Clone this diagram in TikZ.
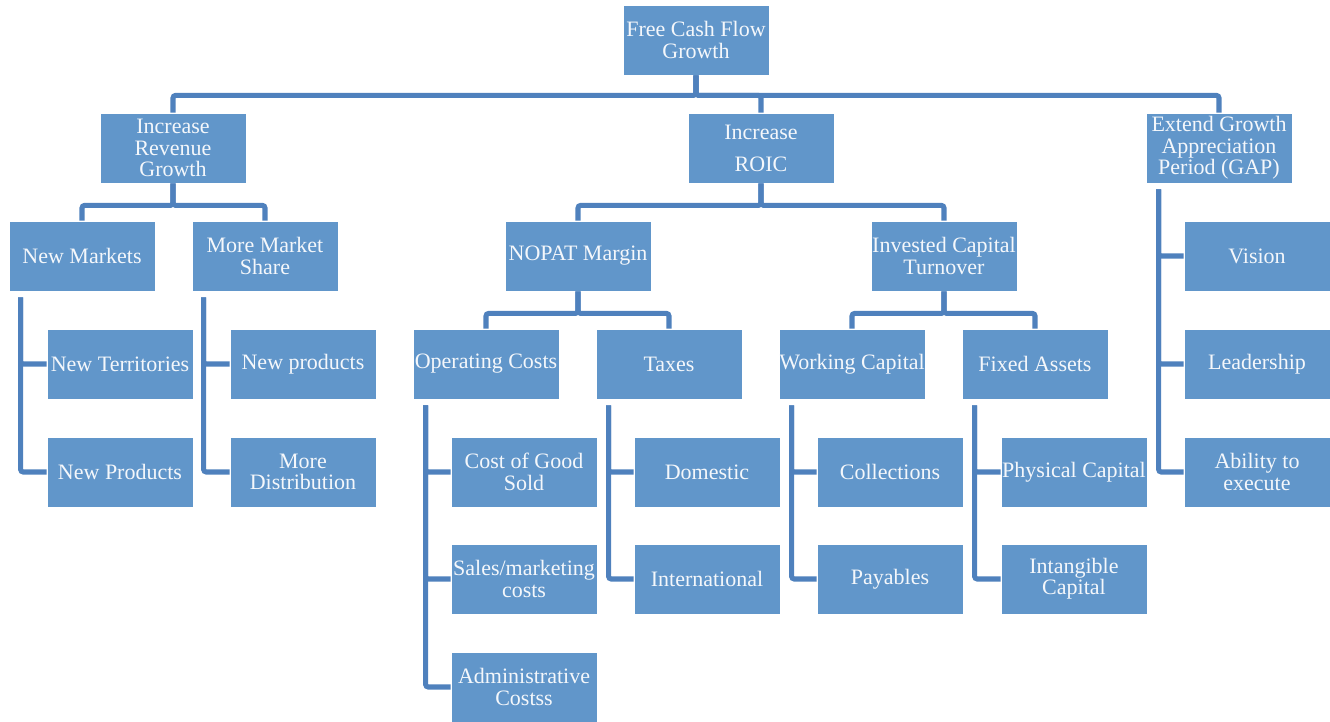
\documentclass[tikz,border=0pt]{standalone}
\usepackage{fontspec}
\setmainfont{Liberation Serif}
\usetikzlibrary{calc}
\definecolor{boxblue}{HTML}{6196CA}
\definecolor{lineblue}{HTML}{4F81BD}
\definecolor{txt}{HTML}{F4F7FB}
\tikzset{
  box/.style={fill=boxblue, draw=white, line width=0.6pt, minimum width=109.5pt, minimum height=52.5pt,
    inner sep=0pt, align=center, text=txt, font=\fontsize{16.5}{16}\selectfont},
  conn/.style={draw=lineblue, line width=3.8pt, rounded corners=2pt},
}
\begin{document}
\begin{tikzpicture}[x=0.75pt,y=-0.75pt]
\useasboundingbox (0,0) rectangle (1330,721);
% nodes
\node[box] (fcf) at (696,40) {Free Cash Flow\\Growth};
\node[box] (irg) at (173,148) {Increase\\Revenue\\Growth};
\node[box] (roic) at (761,148) {Increase\\[8pt]ROIC};
\node[box] (gap) at (1219,148) {Extend Growth\\Appreciation\\Period (GAP)};
\node[box] (nm) at (82,256) {New Markets};
\node[box] (mms) at (265,256) {More Market\\Share};
\node[box] (nop) at (578,256) {NOPAT Margin};
\node[box] (ict) at (944,256) {Invested Capital\\Turnover};
\node[box] (vis) at (1257,256) {Vision};
\node[box] (nt) at (120,364) {New Territories};
\node[box] (npr) at (303,364) {New products};
\node[box] (oc) at (486,364) {Operating Costs};
\node[box] (tax) at (669,364) {Taxes};
\node[box] (wc) at (852,364) {Working Capital};
\node[box] (fa) at (1035,364) {Fixed Assets};
\node[box] (lead) at (1257,364) {Leadership};
\node[box] (nP) at (120,472) {New Products};
\node[box] (md) at (303,472) {More\\Distribution};
\node[box] (cogs) at (524,472) {Cost of Good\\Sold};
\node[box] (dom) at (707,472) {Domestic};
\node[box] (col) at (890,472) {Collections};
\node[box] (phys) at (1074,472) {Physical Capital};
\node[box] (abil) at (1257,472) {Ability to\\execute};
\node[box] (smc) at (524,579) {Sales/marketing\\costs};
\node[box] (intl) at (707,579) {International};
\node[box] (pay) at (890,579) {Payables};
\node[box] (intang) at (1074,579) {Intangible\\Capital};
\node[box] (adm) at (524,687) {Administrative\\Costss};
% top-down buses
\begin{scope}[every path/.style={conn}]
\draw (fcf.south) -- ++(0,20) -| (irg.north);
\draw (fcf.south) -- ++(0,20) -| (roic.north);
\draw (fcf.south) -- ++(0,20) -| (gap.north);
\draw (irg.south) -- ++(0,22) -| (nm.north);
\draw (irg.south) -- ++(0,22) -| (mms.north);
\draw (roic.south) -- ++(0,22) -| (nop.north);
\draw (roic.south) -- ++(0,22) -| (ict.north);
\draw (nop.south) -- ++(0,22) -| (oc.north);
\draw (nop.south) -- ++(0,22) -| (tax.north);
\draw (ict.south) -- ++(0,22) -| (wc.north);
\draw (ict.south) -- ++(0,22) -| (fa.north);
% side hangers
\draw ($(nm.south west)+(12,6)$) |- (nt.west);
\draw ($(nm.south west)+(12,6)$) |- (nP.west);
\draw ($(mms.south west)+(12,6)$) |- (npr.west);
\draw ($(mms.south west)+(12,6)$) |- (md.west);
\draw ($(oc.south west)+(13,6)$) |- (cogs.west);
\draw ($(oc.south west)+(13,6)$) |- (smc.west);
\draw ($(oc.south west)+(13,6)$) |- (adm.west);
\draw ($(tax.south west)+(13,6)$) |- (dom.west);
\draw ($(tax.south west)+(13,6)$) |- (intl.west);
\draw ($(wc.south west)+(13,6)$) |- (col.west);
\draw ($(wc.south west)+(13,6)$) |- (pay.west);
\draw ($(fa.south west)+(13,6)$) |- (phys.west);
\draw ($(fa.south west)+(13,6)$) |- (intang.west);
\draw ($(gap.south west)+(13,6)$) |- (vis.west);
\draw ($(gap.south west)+(13,6)$) |- (lead.west);
\draw ($(gap.south west)+(13,6)$) |- (abil.west);
\end{scope}
\end{tikzpicture}
\end{document}
